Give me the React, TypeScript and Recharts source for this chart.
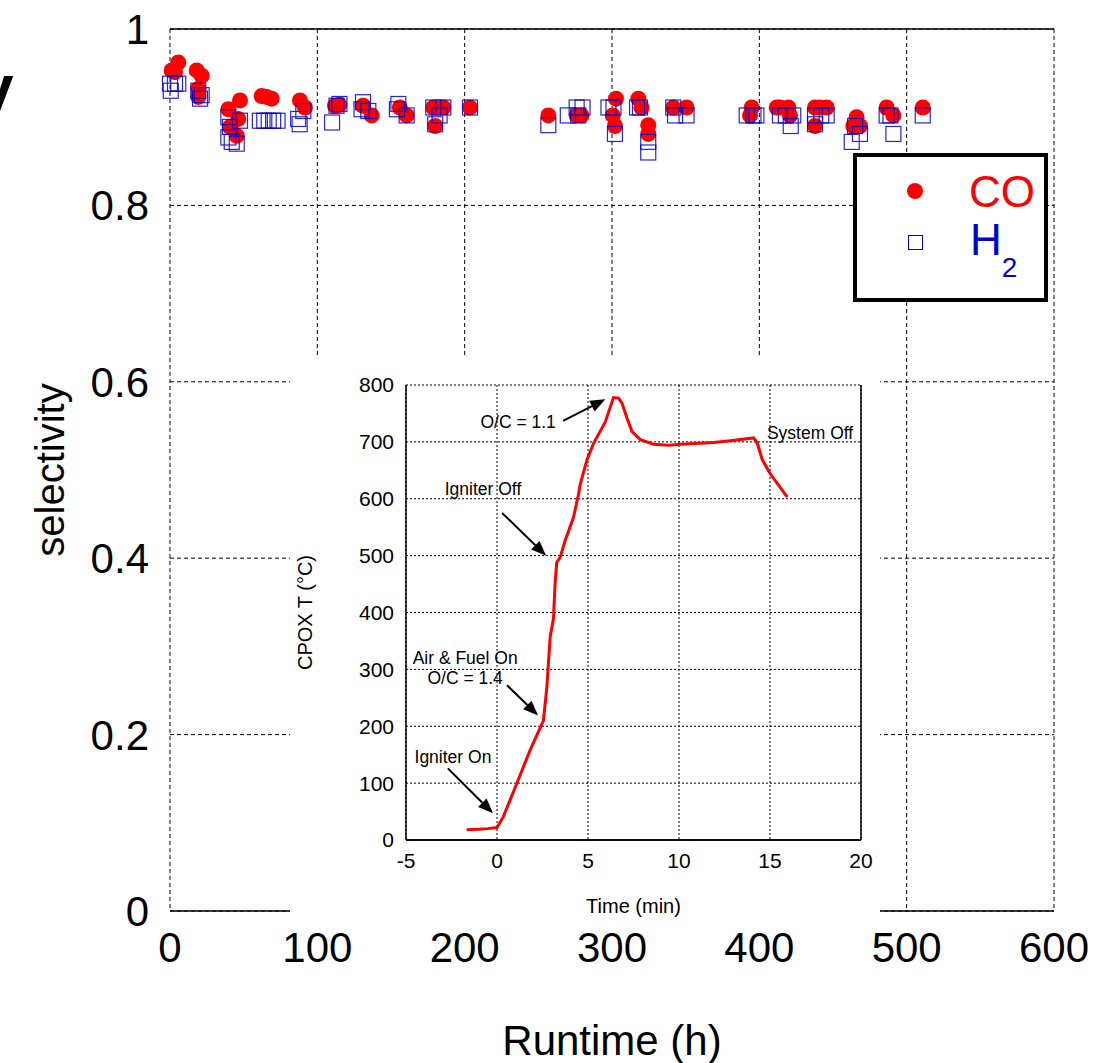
import React from "react";
import {
  ScatterChart,
  Scatter,
  LineChart,
  Line,
  XAxis,
  YAxis,
  CartesianGrid,
  ReferenceLine,
  ReferenceDot,
} from "recharts";

const FONT = "'Liberation Sans', Arial, Helvetica, sans-serif";

// main chart: selectivity vs runtime
const runtimeTicks = [0, 100, 200, 300, 400, 500, 600];
const selectivityTicks = [0, 0.2, 0.4, 0.6, 0.8, 1];

const coRuntime = [
  1.1, 5.6, 3.4, 18.1, 21.5, 19.2, 19.2, 47.5, 39.6, 46.3, 40.7, 45.3, 62.2, 65.6, 69,
  88.2, 91.6, 112, 115, 131, 136.9, 156, 160.6, 178.7, 185.5, 180, 203.6, 256.8, 276,
  279.3, 302.7, 300.5, 302, 317.9, 320, 324.6, 324.6, 341.6, 350.6, 394.8, 393.7, 411.8,
  414, 419.7, 420.8, 437.8, 445.7, 437.8, 441, 466, 463.8, 468.3, 486.4, 491, 510.9,
];
const coSelectivity = [
  0.953, 0.962, 0.951, 0.953, 0.947, 0.932, 0.923, 0.919, 0.909, 0.898, 0.889, 0.879, 0.924,
  0.923, 0.921, 0.919, 0.911, 0.913, 0.914, 0.913, 0.902, 0.911, 0.902, 0.911, 0.911, 0.89,
  0.911, 0.902, 0.902, 0.902, 0.921, 0.902, 0.89, 0.921, 0.911, 0.891, 0.881, 0.911, 0.911,
  0.911, 0.902, 0.911, 0.911, 0.911, 0.902, 0.911, 0.911, 0.89, 0.911, 0.9, 0.89, 0.89,
  0.911, 0.902, 0.911,
];

const h2Runtime = [
  0.5, 3.4, 0, 5.6, 19.2, 20.4, 21.5, 39.6, 40.7, 47.5, 41.9, 45.3, 39.6, 61, 64, 67, 70,
  73, 87, 88, 90.5, 110, 113, 115, 130, 131, 134.6, 154, 155, 160.6, 178.7, 183, 180, 185.5,
  203.6, 256.8, 276, 277.1, 270, 280, 301, 297.6, 302, 319, 317, 324.6, 324.6, 341.6, 342.8,
  350.6, 391.4, 396, 398, 414, 418, 421.3, 423, 437.8, 445.7, 437.8, 442, 465, 468.3, 462.7,
  486.4, 491, 489, 510.9,
];
const h2Selectivity = [
  0.93, 0.938, 0.938, 0.938, 0.93, 0.921, 0.925, 0.9, 0.889, 0.896, 0.872, 0.87, 0.877,
  0.896, 0.896, 0.896, 0.896, 0.896, 0.898, 0.892, 0.907, 0.894, 0.913, 0.915, 0.909, 0.917,
  0.907, 0.909, 0.915, 0.902, 0.911, 0.902, 0.892, 0.911, 0.911, 0.891, 0.911, 0.902, 0.902,
  0.911, 0.911, 0.911, 0.881, 0.911, 0.911, 0.872, 0.86, 0.911, 0.902, 0.902, 0.902, 0.902,
  0.902, 0.902, 0.902, 0.89, 0.902, 0.902, 0.902, 0.892, 0.902, 0.89, 0.881, 0.872, 0.902,
  0.881, 0.902, 0.902,
];

// inset: CPOX temperature vs time
const timeTicks = [-5, 0, 5, 10, 15, 20];
const tempTicks = [0, 100, 200, 300, 400, 500, 600, 700, 800];
const timeMin = [
  -1.67, -1, -0.5, 0, 0.35, 1.08, 1.82, 2.55, 2.74, 2.92, 3.1, 3.19, 3.28, 3.47, 3.74, 4.2,
  4.48, 4.57, 4.94, 5.3, 5.95, 6.4, 6.68, 6.87, 7.14, 7.42, 7.87, 8.6, 9.43, 10.08, 11.9,
  12.83, 14.1, 14.3, 14.57, 15.03, 15.95,
];
const cpoxTemp = [
  18, 19, 20, 22, 41, 99, 158, 210, 269, 357, 389, 450, 488, 497, 526, 567, 608, 625, 668,
  697, 735, 778, 777, 768, 742, 718, 704, 696, 694, 696, 699, 702, 707, 698, 669, 643, 603,
];

// annotation texts and arrows, in inset data units
const notes = [
  { lines: ["O/C = 1.1"], t: 1.16, T: 735, from: [3.63, 737], to: [5.95, 775] },
  { lines: ["Igniter Off"], t: -0.77, T: 617, from: [0.28, 575], to: [2.7, 500] },
  { lines: ["Air & Fuel On", "O/C = 1.4"], t: -1.75, T: 302, from: [0.55, 272], to: [2.26, 219] },
  { lines: ["Igniter On"], t: -2.42, T: 146, from: [-2.7, 126], to: [-0.22, 47] },
  { lines: ["System Off"], t: 17.2, T: 716, from: null, to: null },
];

const coData = coRuntime.map((h, i) => ({ h, s: coSelectivity[i] }));
const h2Data = h2Runtime.map((h, i) => ({ h, s: h2Selectivity[i] }));
const tempData = timeMin.map((t, i) => ({ t, T: cpoxTemp[i] }));

const fmtSel = (v: number) => (v === 0 || v === 1 ? String(v) : v.toFixed(1));

const Circle = (p: any) => <circle cx={p.cx} cy={p.cy} r={8} fill="#ff0000" />;
const Square = (p: any) => (
  <rect
    x={p.cx - 7.5}
    y={p.cy - 7.5}
    width={15}
    height={15}
    fill="none"
    stroke="#0000cc"
    strokeWidth={1.2}
    strokeOpacity={0.85}
  />
);

const Arrow = (p: any) => {
  const { x1, y1, x2, y2 } = p;
  const dx = x2 - x1;
  const dy = y2 - y1;
  const len = Math.sqrt(dx * dx + dy * dy) || 1;
  const ux = dx / len;
  const uy = dy / len;
  const head = 15;
  const half = 6;
  const bx = x2 - ux * head;
  const by = y2 - uy * head;
  const pts = `${x2},${y2} ${bx - uy * half},${by + ux * half} ${bx + uy * half},${by - ux * half}`;
  return (
    <g>
      <line x1={x1} y1={y1} x2={bx} y2={by} stroke="#000" strokeWidth={2} />
      <polygon points={pts} fill="#000" />
    </g>
  );
};

function Inset() {
  return (
    <LineChart
      width={590}
      height={570}
      data={tempData}
      margin={{ top: 30, right: 19, bottom: 0, left: 0 }}
      style={{ fontFamily: FONT }}
    >
      <CartesianGrid stroke="#000" strokeDasharray="2 2" strokeWidth={1} />
      <XAxis
        type="number"
        dataKey="t"
        domain={[-5, 20]}
        ticks={timeTicks}
        height={85}
        tickSize={0}
        tickMargin={13}
        stroke="#000"
        strokeWidth={1.5}
        tick={{ fill: "#000", fontSize: 21 }}
        label={{ value: "Time (min)", position: "insideBottom", offset: 12, fill: "#000", fontSize: 20 }}
      />
      <YAxis
        type="number"
        domain={[0, 800]}
        ticks={tempTicks}
        width={116}
        tickSize={0}
        tickMargin={12}
        stroke="#000"
        strokeWidth={1.5}
        tick={{ fill: "#000", fontSize: 21 }}
        label={{
          value: "CPOX T (°C)",
          angle: -90,
          position: "insideLeft",
          offset: 15,
          fill: "#000",
          fontSize: 20,
          style: { textAnchor: "middle" },
        }}
      />
      <ReferenceLine x={20} stroke="#000" strokeWidth={1.5} />
      <ReferenceLine y={0} stroke="#000" strokeWidth={1.5} />
      <Line
        type="linear"
        dataKey="T"
        stroke="#ff0000"
        strokeWidth={3}
        dot={false}
        isAnimationActive={false}
      />
      {notes
        .filter((n) => n.from && n.to)
        .map((n, i) => (
          <ReferenceLine
            key={"a" + i}
            segment={[
              { x: n.from![0], y: n.from![1] },
              { x: n.to![0], y: n.to![1] },
            ]}
            shape={Arrow}
          />
        ))}
      {notes.map((n, i) => (
        <ReferenceDot
          key={"n" + i}
          x={n.t}
          y={n.T}
          r={0}
          shape={(p: any) => (
            <text
              x={p.cx}
              y={p.cy - ((n.lines.length - 1) * 20) / 2}
              textAnchor="middle"
              fontSize={17.5}
              fill="#000"
              fontFamily={FONT}
            >
              {n.lines.map((l, j) => (
                <tspan key={j} x={p.cx} dy={j === 0 ? "0.35em" : 20}>
                  {l}
                </tspan>
              ))}
            </text>
          )}
        />
      ))}
    </LineChart>
  );
}

export default function App() {
  return (
    <div
      style={{
        position: "absolute",
        left: 0,
        top: 0,
        width: 1104,
        height: 1063,
        background: "#fff",
        overflow: "hidden",
        fontFamily: FONT,
      }}
    >
      <div
        style={{
          position: "absolute",
          left: -22,
          top: 56,
          fontSize: 64,
          fontWeight: "bold",
          lineHeight: 1,
          color: "#000",
        }}
      >
        y
      </div>
      <ScatterChart
        width={1104}
        height={1063}
        margin={{ top: 29, right: 50, bottom: 0, left: 0 }}
        style={{ fontFamily: FONT }}
      >
        <CartesianGrid stroke="#000" strokeDasharray="4 3" strokeWidth={1} />
        <XAxis
          type="number"
          dataKey="h"
          domain={[0, 600]}
          ticks={runtimeTicks}
          height={152}
          tickSize={0}
          tickMargin={21}
          stroke="#000"
          strokeWidth={1.5}
          tick={{ fill: "#000", fontSize: 42 }}
          label={{ value: "Runtime (h)", position: "insideBottom", offset: 8, fill: "#000", fontSize: 42 }}
        />
        <YAxis
          type="number"
          dataKey="s"
          domain={[0, 1]}
          ticks={selectivityTicks}
          tickFormatter={fmtSel}
          width={170}
          tickSize={0}
          tickMargin={21}
          axisLine={false}
          tick={{ fill: "#000", fontSize: 42 }}
          label={{
            value: "selectivity",
            angle: -90,
            position: "insideLeft",
            offset: 50,
            fill: "#000",
            fontSize: 40,
            style: { textAnchor: "middle" },
          }}
        />
        <ReferenceLine y={1} stroke="#000" strokeWidth={1.5} />
        <Scatter name="CO" data={coData} shape={Circle} isAnimationActive={false} />
        <Scatter name="H2" data={h2Data} shape={Square} isAnimationActive={false} />
      </ScatterChart>
      <div
        style={{
          position: "absolute",
          left: 290,
          top: 355,
          width: 590,
          height: 570,
          background: "#fff",
        }}
      >
        <Inset />
      </div>
      <div
        style={{
          position: "absolute",
          left: 853,
          top: 153,
          width: 195,
          height: 149,
          boxSizing: "border-box",
          border: "4px solid #000",
          background: "#fff",
        }}
      >
        <div
          style={{
            position: "absolute",
            left: 50,
            top: 26,
            width: 16,
            height: 16,
            borderRadius: 8,
            background: "#ff0000",
          }}
        />
        <div
          style={{
            position: "absolute",
            left: 51,
            top: 78,
            width: 13,
            height: 13,
            border: "1.2px solid #0000cc",
          }}
        />
        <div
          style={{
            position: "absolute",
            left: 112,
            top: 10,
            fontSize: 44,
            lineHeight: "50px",
            color: "#ff0000",
          }}
        >
          CO
        </div>
        <div
          style={{
            position: "absolute",
            left: 113,
            top: 58,
            fontSize: 44,
            lineHeight: "50px",
            color: "#0000cc",
          }}
        >
          H<span style={{ fontSize: 28, position: "relative", top: 22 }}>2</span>
        </div>
      </div>
    </div>
  );
}
